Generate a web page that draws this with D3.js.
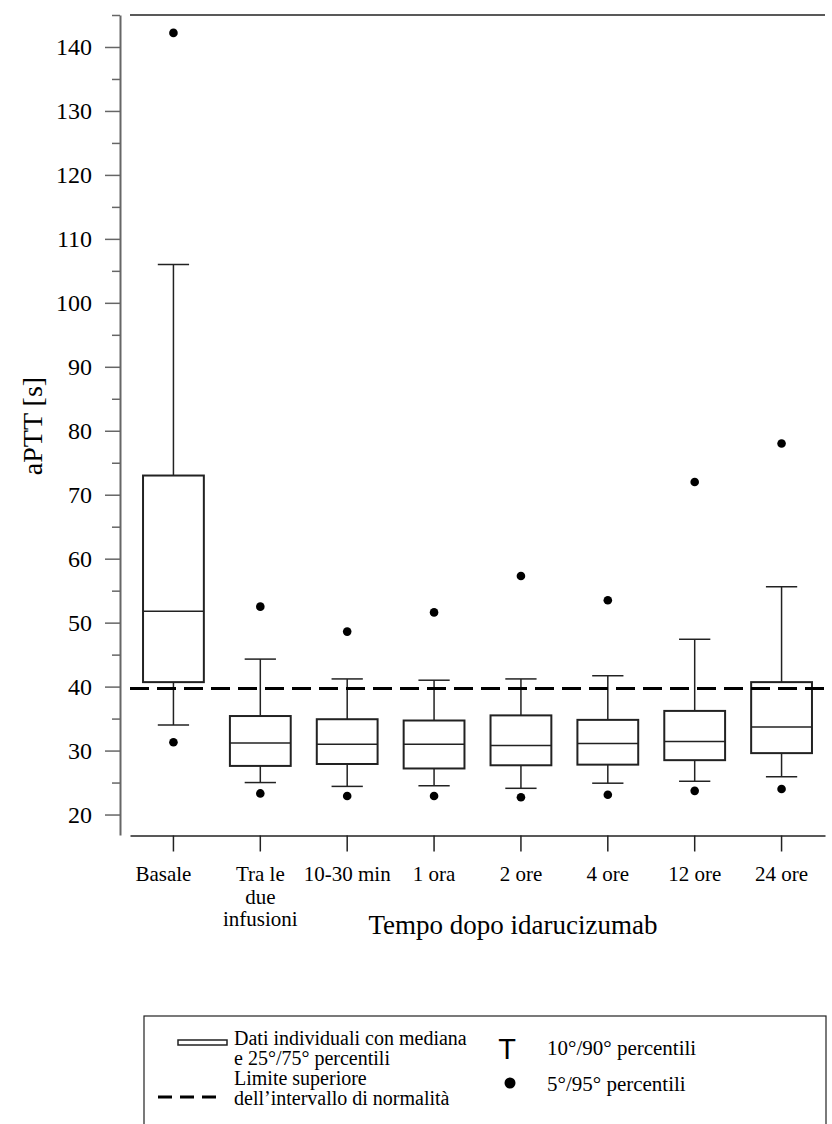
<!DOCTYPE html>
<html>
<head>
<meta charset="utf-8">
<script src="https://cdn.jsdelivr.net/npm/d3@7"></script>
<style>
    body { margin: 0; background: #fff; }
</style>
</head>
<body>
<svg id="chart" width="832" height="1124"></svg>
<script>

// categories on the x axis (label lines split with \n)
var categories = ["Basale", "Tra le\ndue\ninfusioni", "10-30 min", "1 ora", "2 ore", "4 ore", "12 ore", "24 ore"];

// percentiles, aPTT [s]
var p95 = [142.2, 52.5, 48.6, 51.6, 57.3, 53.5, 72.0, 78.0];
var p90 = [106.0, 44.3, 41.2, 41.0, 41.2, 41.7, 47.4, 55.6];
var p75 = [73.0, 35.4, 34.9, 34.7, 35.5, 34.8, 36.2, 40.7];
var p50 = [51.8, 31.2, 31.0, 31.0, 30.8, 31.1, 31.4, 33.7];
var p25 = [40.7, 27.6, 27.9, 27.2, 27.7, 27.8, 28.5, 29.6];
var p10 = [34.0, 25.0, 24.4, 24.5, 24.1, 24.9, 25.2, 25.9];
var p5 = [31.3, 23.3, 22.9, 22.9, 22.7, 23.1, 23.7, 24.0];

// upper limit of the normal range
var normalLimit = 39.7;

var majorTicks = [20, 30, 40, 50, 60, 70, 80, 90, 100, 110, 120, 130, 140];
var minorTicks = [25, 35, 45, 55, 65, 75, 85, 95, 105, 115, 125, 135, 145];

var serif = "'Liberation Serif', 'Times New Roman', Times, serif",
    sans = "'Liberation Sans', Arial, Helvetica, sans-serif";

var svg = d3.select("#chart")
    .attr("font-family", serif);
var lineColor = "#222",
    axisColor = "#666";

var x = d3.scaleBand()
    .domain(categories)
    .range([130, 825]);

var y = d3.scaleLinear()
    .domain([16.8, 145])
    .range([835, 15]);

var boxWidth = x.bandwidth() * 0.70,
    capWidth = x.bandwidth() * 0.36;

var rows = categories.map(function (c, i) {
    return {cat: c, p5: p5[i], p10: p10[i], p25: p25[i], p50: p50[i], p75: p75[i], p90: p90[i], p95: p95[i]};
});

// y axis: minor ticks, then major ticks with labels
svg.append("g")
    .attr("transform", "translate(120,0)")
    .call(d3.axisLeft(y).tickValues(minorTicks).tickSize(8).tickFormat("").tickSizeOuter(0))
    .call(function (g) { g.select(".domain").remove(); })
    .selectAll("line").attr("stroke", axisColor).attr("stroke-width", 1.5);

var yAxis = svg.append("g")
    .attr("transform", "translate(120,0)")
    .call(d3.axisLeft(y).tickValues(majorTicks).tickSize(15).tickPadding(13).tickSizeOuter(0))
    .attr("font-family", serif)
    .attr("font-size", 24);
yAxis.select(".domain").attr("stroke", axisColor).attr("stroke-width", 2);
yAxis.selectAll(".tick line").attr("stroke", axisColor).attr("stroke-width", 1.5);
yAxis.selectAll(".tick text")
    .attr("font-family", serif)
    .attr("fill", "#000");

// x axis
var xAxis = svg.append("g")
    .attr("transform", "translate(0,835.5)")
    .call(d3.axisBottom(x).tickSize(16).tickFormat("").tickSizeOuter(0));
xAxis.select(".domain").attr("stroke", lineColor).attr("stroke-width", 1.5);
xAxis.selectAll(".tick line").attr("stroke", lineColor).attr("stroke-width", 1.5);

// top frame line
svg.append("line")
    .attr("x1", x.range()[0]).attr("x2", x.range()[1])
    .attr("y1", y.range()[1]).attr("y2", y.range()[1])
    .attr("stroke", lineColor).attr("stroke-width", 1.5);

// category labels
var labelShift = {"Basale": -10};
svg.append("g").selectAll("text")
    .data(categories)
    .enter().append("text")
    .attr("text-anchor", "middle")
    .attr("font-family", serif)
    .attr("font-size", 21)
    .attr("transform", function (d) {
        return "translate(" + (x(d) + x.bandwidth() / 2 + (labelShift[d] || 0)) + ",881)";
    })
    .selectAll("tspan")
    .data(function (d) { return d.split("\n"); })
    .enter().append("tspan")
    .attr("x", 0)
    .attr("y", function (d, i) { return i * 22.5; })
    .text(function (d) { return d; });

// axis titles
svg.append("text")
    .attr("text-anchor", "middle")
    .attr("font-family", serif)
    .attr("font-size", 28)
    .attr("transform", "translate(42,426) rotate(-90)")
    .text("aPTT [s]");

svg.append("text")
    .attr("text-anchor", "middle")
    .attr("font-family", serif)
    .attr("font-size", 27)
    .attr("x", 513)
    .attr("y", 934)
    .text("Tempo dopo idarucizumab");

// boxes
var box = svg.append("g").selectAll("g")
    .data(rows)
    .enter().append("g")
    .attr("transform", function (d) { return "translate(" + (x(d.cat) + x.bandwidth() / 2) + ",0)"; });

// whiskers
box.append("line")
    .attr("y1", function (d) { return y(d.p75); })
    .attr("y2", function (d) { return y(d.p90); })
    .attr("stroke", lineColor).attr("stroke-width", 1.5);
box.append("line")
    .attr("y1", function (d) { return y(d.p25); })
    .attr("y2", function (d) { return y(d.p10); })
    .attr("stroke", lineColor).attr("stroke-width", 1.5);
box.append("line")
    .attr("x1", -capWidth / 2).attr("x2", capWidth / 2)
    .attr("y1", function (d) { return y(d.p90); })
    .attr("y2", function (d) { return y(d.p90); })
    .attr("stroke", lineColor).attr("stroke-width", 1.5);
box.append("line")
    .attr("x1", -capWidth / 2).attr("x2", capWidth / 2)
    .attr("y1", function (d) { return y(d.p10); })
    .attr("y2", function (d) { return y(d.p10); })
    .attr("stroke", lineColor).attr("stroke-width", 1.5);

box.append("rect")
    .attr("x", -boxWidth / 2)
    .attr("width", boxWidth)
    .attr("y", function (d) { return y(d.p75); })
    .attr("height", function (d) { return y(d.p25) - y(d.p75); })
    .attr("fill", "none")
    .attr("stroke", lineColor).attr("stroke-width", 2);

box.append("line")
    .attr("x1", -boxWidth / 2).attr("x2", boxWidth / 2)
    .attr("y1", function (d) { return y(d.p50); })
    .attr("y2", function (d) { return y(d.p50); })
    .attr("stroke", lineColor).attr("stroke-width", 1.5);

// 5th / 95th percentile dots
box.append("circle")
    .attr("cy", function (d) { return y(d.p95); })
    .attr("r", 4.3)
    .attr("fill", "#000");
box.append("circle")
    .attr("cy", function (d) { return y(d.p5); })
    .attr("r", 4.3)
    .attr("fill", "#000");

// normal range upper limit
svg.append("line")
    .attr("x1", x.range()[0]).attr("x2", x.range()[1])
    .attr("y1", y(normalLimit)).attr("y2", y(normalLimit))
    .attr("stroke", "#000")
    .attr("stroke-width", 3)
    .attr("stroke-dasharray", "19,8");

// legend
var legend = svg.append("g")
    .attr("font-family", serif);
legend.append("rect")
    .attr("x", 144).attr("y", 1016)
    .attr("width", 682).attr("height", 130)
    .attr("fill", "none")
    .attr("stroke", lineColor).attr("stroke-width", 1.2);

legend.append("rect")
    .attr("x", 178).attr("y", 1040)
    .attr("width", 49).attr("height", 5)
    .attr("fill", "#fff")
    .attr("stroke", lineColor).attr("stroke-width", 1.5);

legend.append("line")
    .attr("x1", 158).attr("x2", 220)
    .attr("y1", 1097).attr("y2", 1097)
    .attr("stroke", "#000").attr("stroke-width", 3)
    .attr("stroke-dasharray", "14,8");

var legendLines = ["Dati individuali con mediana", "e 25°/75° percentili", "Limite superiore", "dell\u2019intervallo di normalità"];
legend.selectAll(".leg-left")
    .data(legendLines)
    .enter().append("text")
    .attr("class", "leg-left")
    .attr("x", 234)
    .attr("y", function (d, i) { return 1045 + i * 20; })
    .attr("font-size", 20)
    .text(function (d) { return d; });

legend.append("text")
    .attr("x", 507).attr("y", 1059)
    .attr("text-anchor", "middle")
    .attr("font-family", sans)
    .attr("font-size", 29)
    .text("T");
legend.append("circle")
    .attr("cx", 510).attr("cy", 1083)
    .attr("r", 5.5)
    .attr("fill", "#000");

legend.append("text")
    .attr("x", 547).attr("y", 1055)
    .attr("font-size", 21)
    .text("10°/90° percentili");
legend.append("text")
    .attr("x", 547).attr("y", 1091)
    .attr("font-size", 21)
    .text("5°/95° percentili");

</script>
</body>
</html>
